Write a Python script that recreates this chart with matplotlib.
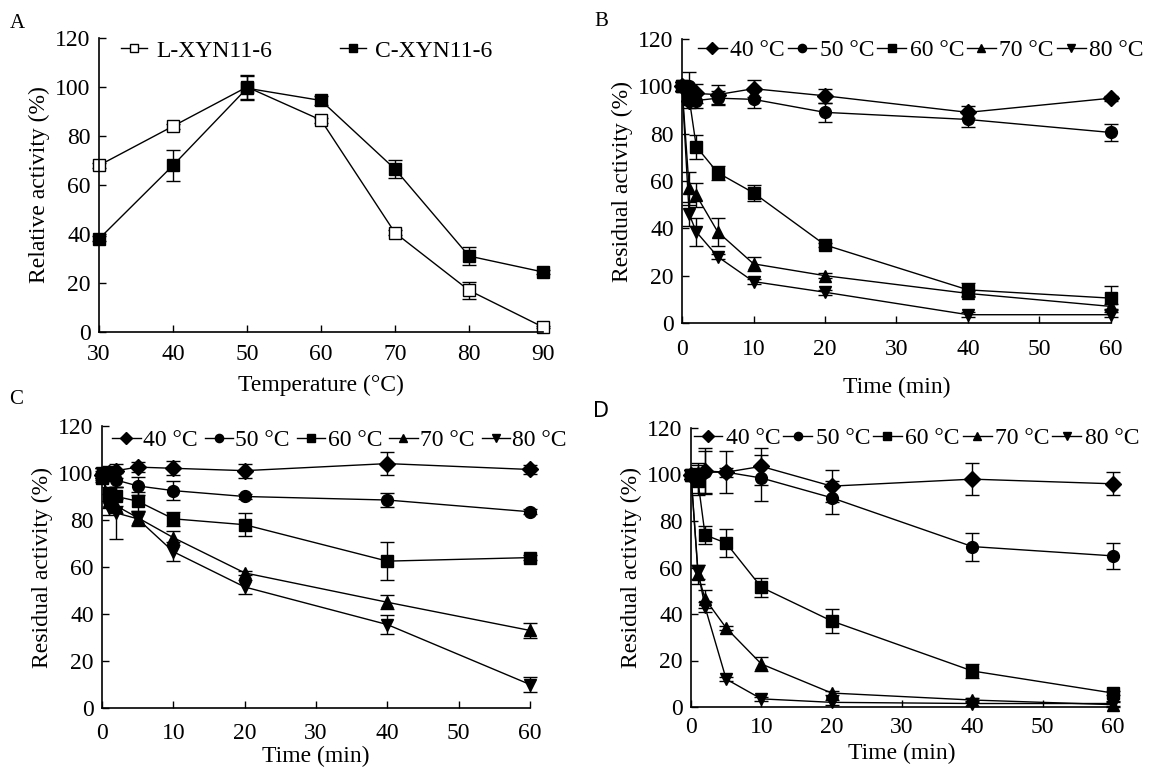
import matplotlib
matplotlib.use("Agg")
import matplotlib.pyplot as plt

plt.rcParams["font.family"] = ["Liberation Serif", "DejaVu Serif"]
plt.rcParams["font.size"] = 17
plt.rcParams["xtick.direction"] = "in"
plt.rcParams["ytick.direction"] = "in"

# Panel A: temperature profile
temps = [30, 40, 50, 60, 70, 80, 90]
l_xyn = [68, 84, 100, 86.5, 40.5, 17, 2]
l_err = [1, 1, 5, 1, 1, 3.6, 0.5]
c_xyn = [38, 68, 99.5, 94.5, 66.5, 31, 24.5]
c_err = [1, 6.4, 5, 2, 3.6, 3.6, 1]

# Panels B-D: residual activity over time
times = [0, 1, 2, 5, 10, 20, 40, 60]
series_labels = ["40 °C", "50 °C", "60 °C", "70 °C", "80 °C"]
markers = ["D", "o", "s", "^", "v"]

b_vals = [
    [100, 94, 97, 96.5, 99, 96, 89, 95],
    [100, 100, 94, 95, 94.5, 89, 86, 80.5],
    [100, 95, 74.5, 63.5, 55, 33, 14, 10.5],
    [100, 57, 54, 38.5, 25, 20, 12.5, 7],
    [100, 46, 38.5, 28, 17.5, 13, 3.5, 3.5],
]
b_errs = [
    [2, 3, 4, 4, 3.5, 3, 2.5, 1],
    [2, 6, 3, 3, 3.5, 4, 3, 3.5],
    [2, 3, 5, 3, 3.5, 1, 3, 5],
    [2, 7, 5, 6, 3, 1, 1, 1],
    [2, 5, 6, 1, 1, 1, 1, 1],
]

c_vals = [
    [99, 100, 101, 102.5, 102, 101, 104, 101.5],
    [100, 100, 97, 94.5, 92.5, 90, 88.5, 83.5],
    [98, 91, 90, 88, 80.5, 78, 62.5, 64],
    [100, 88, 86, 81, 72.5, 57.5, 45, 33],
    [100, 85, 83, 80.5, 66.5, 51.5, 35.5, 10],
]
c_errs = [
    [2, 2, 3, 2, 3, 3, 5, 2],
    [2, 3, 3, 4, 4, 1, 3, 1],
    [2, 3, 4, 4, 3, 5, 8, 1],
    [2, 3, 3, 3, 3, 1, 3, 3],
    [2, 3, 11, 3, 4, 3, 4, 3],
]

d_vals = [
    [100, 100, 101.5, 101, 103.5, 95, 98, 96],
    [100, 98, 101, 101, 98.5, 90, 69, 65],
    [100, 97, 74, 70.5, 51.5, 37, 15.5, 6],
    [100, 57, 46.5, 34, 18.5, 6, 3, 1],
    [100, 58, 43, 12, 3.5, 2, 1.5, 1.5],
]
d_errs = [
    [2, 5, 10, 2, 8, 7, 7, 5],
    [2, 6, 9, 9, 10, 7, 6, 5.5],
    [2, 6, 4, 6, 4, 5, 3, 1],
    [2, 4, 4, 1, 3, 1, 1, 1],
    [2, 3, 2, 1, 1, 1, 1, 1],
]

W, H = 1166, 770
fig = plt.figure(figsize=(W / 100, H / 100), dpi=100)


def make_axes(x0, x1, ytop, ybot, xpad, labelpad):
    ax = fig.add_axes([x0 / W, (H - ybot) / H, (x1 - x0) / W, (ybot - ytop) / H])
    ax.spines["top"].set_visible(False)
    ax.spines["right"].set_visible(False)
    for s in ["left", "bottom"]:
        ax.spines[s].set_linewidth(1.2)
    ax.set_ylim(0, 120)
    ax.set_yticks(range(0, 121, 20))
    ax.tick_params(length=5, width=1)
    ax.tick_params(axis="x", pad=xpad)
    ax.tick_params(axis="y", pad=6)
    ax.xaxis.labelpad = labelpad
    ax.yaxis.labelpad = 4
    return ax


def draw(ax, x, y, e, marker, face, label):
    ax.errorbar(x, y, yerr=e, fmt="none", ecolor="black", elinewidth=1,
                capsize=5, capthick=1, clip_on=False)
    ax.plot(x, y, color="black", lw=1, marker=marker, mfc=face, mec="black",
            markersize=8.5, clip_on=False, label=label)


# A
axA = make_axes(99, 543, 38, 332, 9, 7)
draw(axA, temps, l_xyn, l_err, "s", "white", "L-XYN11-6")
draw(axA, temps, c_xyn, c_err, "s", "black", "C-XYN11-6")
axA.set_xlim(30, 90)
axA.set_xticks(range(30, 91, 10))
axA.set_ylabel("Relative activity (%)")
axA.set_xlabel("Temperature (°C)")
axA.legend(loc="center left", bbox_to_anchor=(0.05, 0.956), ncol=2, frameon=False,
           handlelength=1.1, handletextpad=0.38, columnspacing=2.9,
           borderaxespad=0, borderpad=0, markerscale=0.75)
fig.text(17 / W, 1 - 23 / H, "A", fontsize=15, ha="center", va="center")


def time_panel(ax, vals, errs, leg_xy, hl, tp, cs):
    for v, e, m, lab in zip(vals, errs, markers, series_labels):
        draw(ax, times, v, e, m, "black", lab)
    ax.set_xlim(0, 60)
    ax.set_xticks(range(0, 61, 10))
    ax.set_xlabel("Time (min)")
    ax.set_ylabel("Residual activity (%)")
    ax.legend(loc="center left", bbox_to_anchor=leg_xy, ncol=5,
              frameon=False, handlelength=hl, handletextpad=tp,
              columnspacing=cs, borderaxespad=0, borderpad=0, markerscale=0.7)


axB = make_axes(682, 1111, 39, 323, 11.5, 12)
time_panel(axB, b_vals, b_errs, (0.037, 0.961), 1.22, 0.15, 0.12)
fig.text(601 / W, 1 - 22 / H, "B", fontsize=15, ha="center", va="center")

axC = make_axes(102, 530, 426, 708, 10.5, 2)
time_panel(axC, c_vals, c_errs, (0.024, 0.95), 1.2, 0.1, 0.3)
fig.text(16 / W, 1 - 399 / H, "C", fontsize=15, ha="center", va="center")

axD = make_axes(691, 1113, 428, 707, 7, 4)
time_panel(axD, d_vals, d_errs, (0.006, 0.964), 1.22, 0.15, 0.12)
fig.text(601 / W, 1 - 411 / H, "D", fontsize=15, ha="center", va="center",
         family="DejaVu Sans")

fig.savefig("out.png", dpi=100)
